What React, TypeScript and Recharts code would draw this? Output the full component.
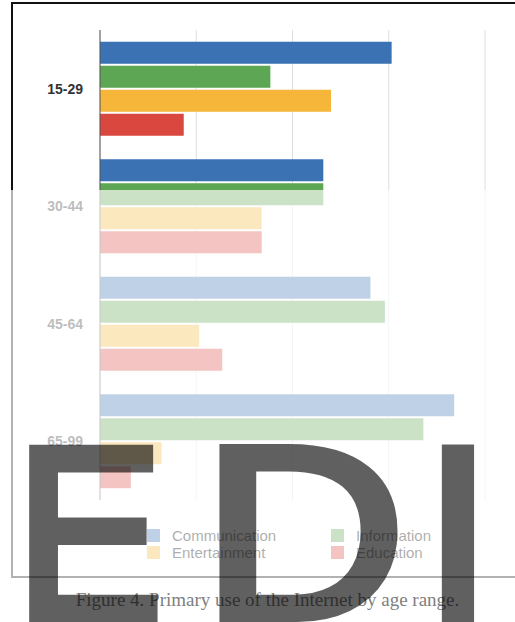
import { BarChart, Bar, XAxis, YAxis, CartesianGrid, Legend } from 'recharts';

const ageRanges = ['15-29', '30-44', '45-64', '65-99'];
const communication = [30.3, 23.2, 28.1, 36.8];
const information = [17.7, 23.2, 29.6, 33.6];
const entertainment = [24.0, 16.8, 10.3, 6.4];
const education = [8.7, 16.8, 12.7, 3.2];
const xTicks = [0, 10, 20, 30, 40];

const series = [
  { key: 'communication', name: 'Communication', color: '#3a72b4' },
  { key: 'information', name: 'Information', color: '#5da653' },
  { key: 'entertainment', name: 'Entertainment', color: '#f5b63a' },
  { key: 'education', name: 'Education', color: '#da473f' },
];

const data = ageRanges.map((age, i) => ({
  age,
  communication: communication[i],
  information: information[i],
  entertainment: entertainment[i],
  education: education[i],
}));

const sans = '"Liberation Sans", Arial, Helvetica, sans-serif';

// big block letters laid over the lower part of the figure
const letters = [
  { ch: 'E', x: 15.1, sx: 0.904 },
  { ch: 'D', x: 201.4, sx: 1.153 },
  { ch: 'I', x: 423.4, sx: 1.01 },
];

// two-column legend, row by row, in series order
const renderLegend = (props: any) => {
  const items = [...(props.payload || [])].sort(
    (a: any, b: any) =>
      series.findIndex((s) => s.name === a.value) - series.findIndex((s) => s.name === b.value)
  );
  return (
    <div style={{ display: 'grid', gridTemplateColumns: '184px 160px', rowGap: 4, fontFamily: sans }}>
      {items.map((item: any) => (
        <div key={item.value} style={{ display: 'flex', alignItems: 'center', height: 13 }}>
          <span style={{ width: 13, height: 13, background: item.color, display: 'inline-block', marginRight: 12 }} />
          <span style={{ fontSize: 15, color: '#000', lineHeight: '13px', whiteSpace: 'nowrap' }}>{item.value}</span>
        </div>
      ))}
    </div>
  );
};

export default function App() {
  return (
    <div style={{ position: 'absolute', left: 0, top: 0, width: 515, height: 622, overflow: 'hidden', background: '#fff' }}>
      <div
        style={{
          position: 'absolute', left: 11, top: 2, width: 504, height: 576, boxSizing: 'border-box',
          borderTop: '2px solid #111', borderLeft: '2px solid #111', borderBottom: '2px solid #111',
        }}
      />
      <div style={{ position: 'absolute', left: 0, top: 0 }}>
        <BarChart
          width={515}
          height={578}
          data={data}
          layout="vertical"
          margin={{ top: 30, right: 30, bottom: 78, left: 0 }}
          barCategoryGap={11.75}
          barGap={2}
        >
          <CartesianGrid horizontal={false} stroke="#dedede" />
          <XAxis type="number" domain={[0, 40]} ticks={xTicks} hide />
          <YAxis
            type="category"
            dataKey="age"
            width={100}
            tickLine={false}
            tickSize={0}
            tickMargin={17}
            axisLine={{ stroke: '#555' }}
            tick={{ fontSize: 14, fill: '#333', fontWeight: 600, fontFamily: sans }}
          />
          <Legend
            layout="horizontal"
            verticalAlign="middle"
            align="center"
            content={renderLegend}
            wrapperStyle={{ position: 'absolute', top: 529, left: 147, width: 360 }}
          />
          {series.map((s) => (
            <Bar key={s.key} dataKey={s.key} name={s.name} fill={s.color} isAnimationActive={false} />
          ))}
        </BarChart>
      </div>
      {/* washes out everything below the first group */}
      <div style={{ position: 'absolute', left: 0, top: 190, width: 515, height: 390, background: 'rgba(255,255,255,0.68)' }} />
      <svg width={515} height={622} style={{ position: 'absolute', left: 0, top: 0 }}>
        <text x={267.5} y={606} textAnchor="middle" fontFamily='"Liberation Serif", "Times New Roman", serif' fontSize={19} fill="#808080">
          Figure 4. Primary use of the Internet by age range.
        </text>
        <g opacity={0.62}>
          {letters.map((l) => (
            <text
              key={l.ch}
              transform={`translate(${l.x},617.5) scale(${l.sx},1)`}
              fontFamily={sans}
              fontSize={245.6}
              fill="#000"
              stroke="#000"
              strokeWidth={9}
              strokeLinejoin="miter"
            >
              {l.ch}
            </text>
          ))}
        </g>
      </svg>
    </div>
  );
}
